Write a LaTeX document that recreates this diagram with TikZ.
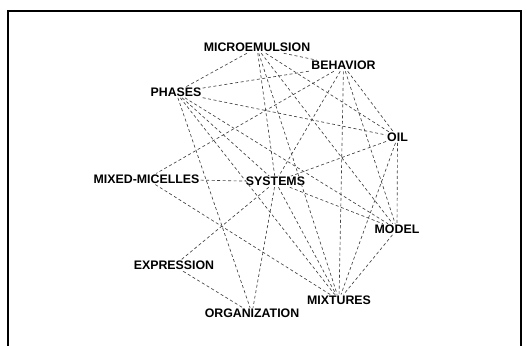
\documentclass[tikz,border=0pt]{standalone}
\usepackage{fontspec}
\setmainfont{Liberation Sans}
\usepackage{tikz}
\usetikzlibrary{positioning}

\tikzset{
    term/.style={inner sep=1bp, font=\fontsize{12.4}{14}\selectfont\bfseries},
    link/.style={black!75, line width=0.65bp, dash pattern=on 3bp off 2.5bp}
}

\begin{document}
\begin{tikzpicture}[x=1bp, y=-1bp]  % pixel-like units, y pointing down
    % Page size
    \useasboundingbox (0,0) rectangle (528,345);
    % Frame (open at the bottom)
    \draw[line width=2bp] (7.5,350) -- (7.5,11) -- (520.5,11) -- (520.5,350);
    % Terms
    \node[term] (mic) at (257,47.7)  {MICROEMULSION};
    \node[term] (beh) at (343.5,65.7) {BEHAVIOR};
    \node[term] (pha) at (176,92.3)  {PHASES};
    \node[term] (oil) at (397.5,137.3) {OIL};
    \node[term] (mxm) at (146.5,179) {MIXED-MICELLES};
    \node[term] (sys) at (275.5,181.7) {SYSTEMS};
    \node[term] (mod) at (397,229.3) {MODEL};
    \node[term] (exp) at (174,265.7) {EXPRESSION};
    \node[term] (mix) at (339,300)   {MIXTURES};
    \node[term] (org) at (252,313.3) {ORGANIZATION};
    % Co-occurrence links
    \foreach \a/\b in {mic/pha, mic/beh, mic/sys, mic/mix, mic/mod, mic/oil,
                       pha/beh, pha/oil, pha/sys, pha/mod, pha/mix, pha/org,
                       beh/mxm, beh/sys, beh/oil, beh/mod, beh/mix,
                       oil/sys, oil/mod, oil/mix,
                       mxm/sys, mxm/mix,
                       sys/mod, sys/mix, sys/org, sys/exp,
                       mod/mix, exp/org} {
        \draw[link] (\a) -- (\b);
    }
\end{tikzpicture}
\end{document}
